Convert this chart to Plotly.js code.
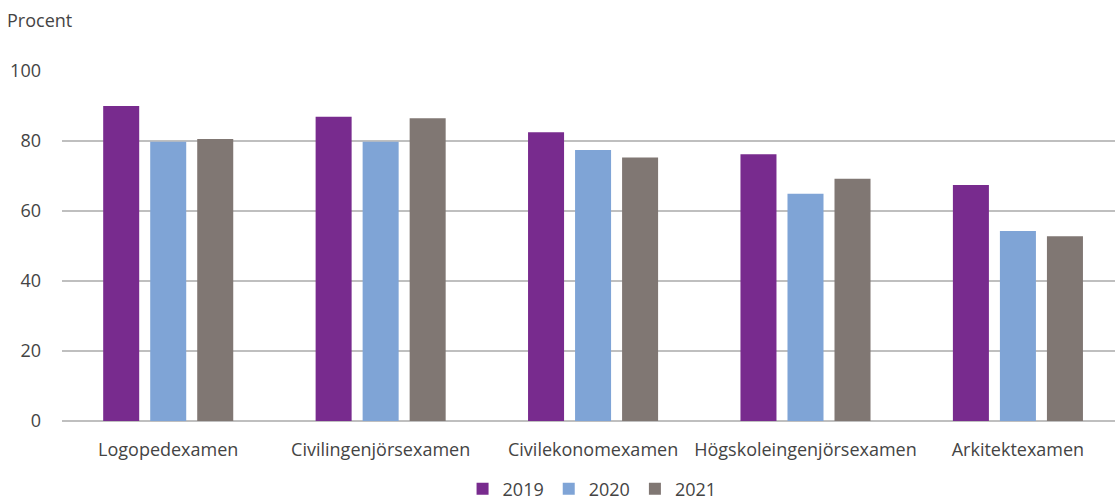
<!DOCTYPE html>
<html>
<head>
<meta charset="utf-8">
<script src="https://cdn.plot.ly/plotly-3.0.1.min.js"></script>
<style>html,body{margin:0;padding:0;background:#fff;}#chart{width:1115px;height:501px;}</style>
</head>
<body>
<div id="chart"></div>
<script>
const categories = ["Logopedexamen", "Civilingenjörsexamen", "Civilekonomexamen", "Högskoleingenjörsexamen", "Arkitektexamen"];
const seriesNames = ["2019", "2020", "2021"];
const values2019 = [90.0, 86.9, 82.5, 76.2, 67.4];
const values2020 = [79.8, 79.8, 77.4, 64.9, 54.3];
const values2021 = [80.6, 86.5, 75.3, 69.2, 52.8];
const colors = ["#782B8E", "#7FA4D6", "#807773"];
const yTicks = [0, 20, 40, 60, 80, 100];

const allValues = [values2019, values2020, values2021];
const traces = allValues.map((vals, i) => ({
  type: "bar",
  name: seriesNames[i],
  x: categories,
  y: vals,
  marker: {color: colors[i]},
  hoverinfo: "y"
}));

const fam = "'Open Sans', sans-serif";
const txtColor = "#444444";

const layout = {
  width: 1115, height: 501,
  margin: {l: 62, r: 0, t: 71, b: 80},
  paper_bgcolor: "#fff", plot_bgcolor: "#fff",
  barmode: "group",
  bargap: 0.336,
  bargroupgap: 0.234,
  font: {family: fam, color: txtColor},
  showlegend: true,
  legend: {
    orientation: "h", xref: "container", yref: "container",
    x: 0.531, xanchor: "center", y: 0.024, yanchor: "middle",
    font: {family: fam, size: 18, color: txtColor},
    itemwidth: 30, traceorder: "normal"
  },
  xaxis: {
    type: "category",
    range: [-0.5, 4.457],
    automargin: false,
    showgrid: false, zeroline: false, showline: false,
    ticks: "", ticklabelstandoff: 16,
    tickfont: {family: fam, size: 18, color: txtColor}
  },
  yaxis: {
    range: [0, 100],
    automargin: false,
    tickvals: yTicks,
    showgrid: true, gridcolor: "#BFBFBF", gridwidth: 1.5,
    zeroline: true, zerolinecolor: "#BFBFBF", zerolinewidth: 1.5,
    showline: false, ticks: "", ticklabelstandoff: 20,
    tickfont: {family: fam, size: 18, color: txtColor}
  },
  annotations: [{
    text: "Procent", xref: "paper", yref: "paper",
    x: -0.054, xanchor: "left", y: 1.146, yanchor: "middle",
    showarrow: false, font: {family: fam, size: 18, color: txtColor}
  }]
};

Plotly.newPlot("chart", traces, layout, {displayModeBar: false, staticPlot: true});
</script>
</body>
</html>
